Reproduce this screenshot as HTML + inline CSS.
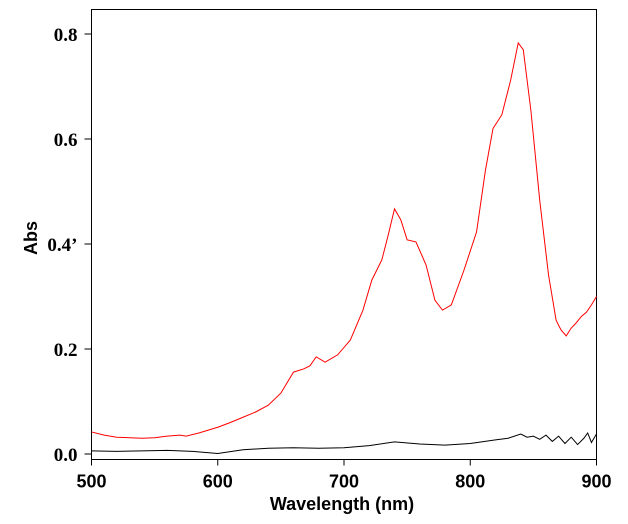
<!DOCTYPE html>
<html><head><meta charset="utf-8"><style>
body{margin:0;background:#fff;}
svg{display:block;font-family:"Liberation Sans",sans-serif;}
.tk{font-family:"Liberation Serif",serif;font-weight:bold;font-size:19px;}
.xk{font-family:"Liberation Sans",sans-serif;font-weight:bold;font-size:18px;}
</style></head><body>
<svg id="c" width="628" height="524"></svg>
<script>
const xTicks=[500,600,700,800,900];
const yTicks=[0.0,0.2,0.4,0.6,0.8];
const yTickLabels=["0.0","0.2","0.4\u2019","0.6","0.8"];
const redX=[500,510,520,530,540,550,560,570,575,585,600,610,620,630,640,650,660,668,673,678,685,695,705,715,722,730,735,740,745,750,757,765,772,778,785,795,805,812,818,825,832,838,842,848,855,862,868,870,872,876,880,884,888,892,896,900];
const redY=[0.042,0.036,0.032,0.031,0.030,0.031,0.034,0.036,0.034,0.040,0.051,0.060,0.070,0.080,0.093,0.116,0.156,0.162,0.168,0.185,0.175,0.189,0.217,0.274,0.331,0.37,0.417,0.467,0.446,0.408,0.404,0.36,0.293,0.274,0.284,0.35,0.423,0.54,0.62,0.646,0.712,0.783,0.77,0.655,0.484,0.341,0.255,0.245,0.236,0.225,0.24,0.25,0.262,0.27,0.284,0.30];
const blackX=[500,520,540,560,580,600,620,640,660,680,700,720,740,760,780,800,820,830,840,845,850,855,860,865,870,875,880,885,890,893,896,900];
const blackY=[0.006,0.005,0.006,0.007,0.005,0.001,0.008,0.011,0.012,0.011,0.012,0.016,0.023,0.019,0.017,0.02,0.027,0.03,0.038,0.032,0.034,0.028,0.036,0.024,0.034,0.02,0.032,0.018,0.03,0.04,0.022,0.038];
const L=91.5,R=596.5,T=9.5,B=459.5;
const sx=v=>L+(v-500)*(R-L)/400;
const sy=v=>454-v*525;
const svg=document.getElementById('c');const NS='http://www.w3.org/2000/svg';
function mk(t,a,p){const e=document.createElementNS(NS,t);for(const k in a)e.setAttribute(k,a[k]);(p||svg).appendChild(e);return e;}
const frame=mk('rect',{x:L,y:T,width:R-L,height:B-T,fill:'none',stroke:'#000','stroke-width':1});


xTicks.forEach(v=>{const x=sx(v);
const t=mk('line',{x1:x,x2:x,y1:B,y2:B+6,stroke:'#000'});


const l=mk('text',{x:x,y:B+28,'text-anchor':'middle',class:'xk'});l.textContent=v;

});
yTicks.forEach((v,i)=>{const y=sy(v);
const t=mk('line',{x1:L-7,x2:L,y1:y,y2:y,stroke:'#000'});


const l=mk('text',{x:L-14,y:y+7,'text-anchor':'end',class:'tk'});l.textContent=yTickLabels[i];

});
function line(xs,ys,c,n){const p=mk('polyline',{points:xs.map((x,i)=>sx(x)+','+sy(ys[i])).join(' '),fill:'none',stroke:c,'stroke-width':1});

}
line(blackX,blackY,'#000','baseline-spectrum');
line(redX,redY,'#f00','sample-spectrum');
const xt=mk('text',{x:342,y:510,'text-anchor':'middle','font-weight':'bold','font-size':18});xt.textContent='Wavelength (nm)';


const yt=mk('text',{x:0,y:0,'text-anchor':'middle','font-weight':'bold','font-size':18,transform:'translate(37,238) rotate(-90)'});yt.textContent='Abs';


</script>
</body></html>
